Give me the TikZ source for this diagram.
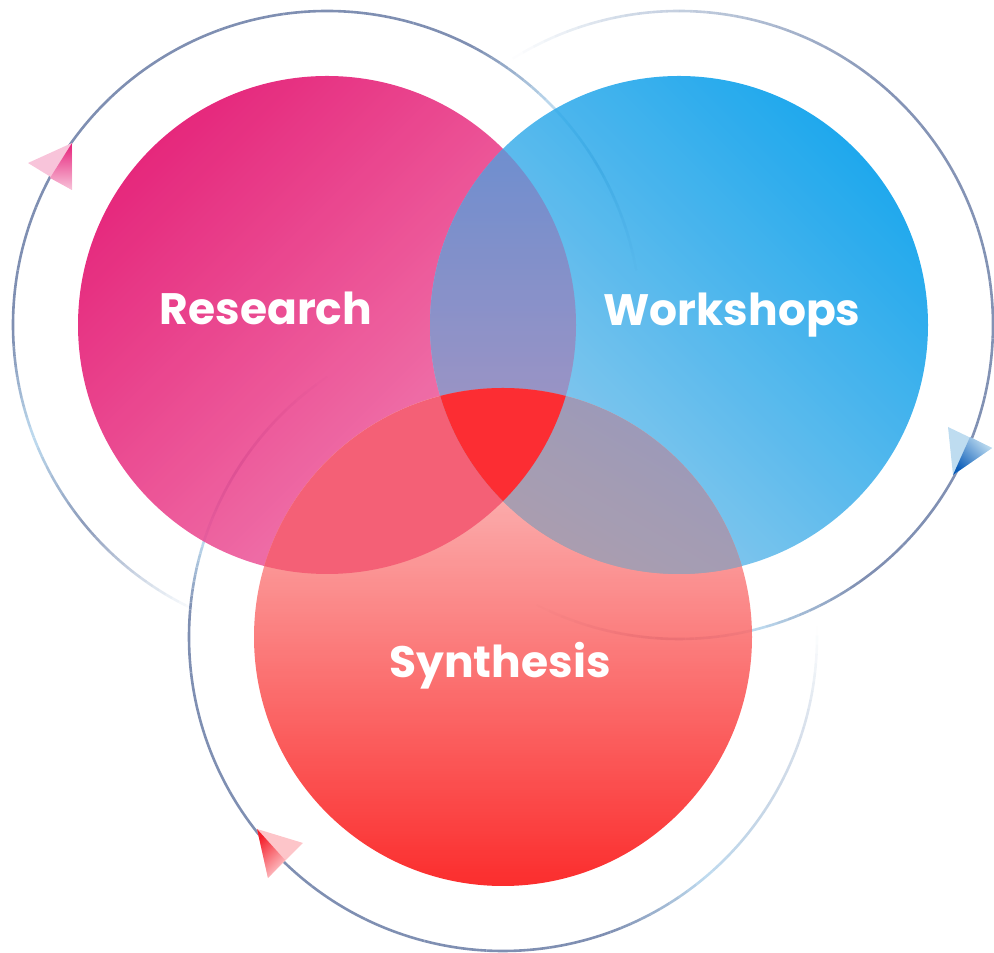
\documentclass[tikz,border=0pt]{standalone}
\usepackage{fontspec}
\newfontfamily\labelfont{Poppins}

\definecolor{ringdark}{HTML}{7F8FB2}
\definecolor{ringlight}{HTML}{BFDCF0}
\definecolor{rtop}{HTML}{E20A6A}
\definecolor{rbot}{HTML}{F072A9}
\definecolor{wtop}{HTML}{009CEA}
\definecolor{wbot}{HTML}{8AC6EA}
\definecolor{stop}{HTML}{FAC8C8}
\definecolor{sbot}{HTML}{FA1010}
\definecolor{rwtop}{HTML}{5B7FC8}
\definecolor{rwbot}{HTML}{8A84BD}
\definecolor{rsmix}{HTML}{F34A63}
\definecolor{wstop}{HTML}{8A8AB2}
\definecolor{wsbot}{HTML}{A091A3}
\definecolor{core}{HTML}{FC1017}
\definecolor{rdeep}{HTML}{E6207A}
\definecolor{rpale}{HTML}{F8C4DA}
\definecolor{wdeep}{HTML}{0A5CB8}
\definecolor{wpale}{HTML}{BEDCF0}
\definecolor{sdeep}{HTML}{F41E2A}
\definecolor{spale}{HTML}{FDC5C9}

\tikzset{
  ring/.style     = {line width=2.6pt},
  lobetext/.style = {text=white, anchor=base,
                     font=\labelfont\bfseries\fontsize{44}{44}\selectfont},
}

% orbit drawn piecewise: start/end angle, dark share, opacity
\newcommand{\ringarc}[3]{%
  \foreach \ta/\tb/\ma/\mb/\oa/\ob in {#3}{
    \foreach \k in {0,...,9}{
      \pgfmathsetmacro\sa{\ta+(\tb-\ta)*\k/10}
      \pgfmathsetmacro\sb{\ta+(\tb-\ta)*(\k+1)/10}
      \pgfmathtruncatemacro\sm{\ma+(\mb-\ma)*(\k+0.5)/10}
      \pgfmathsetmacro\so{\oa+(\ob-\oa)*(\k+0.5)/10}
      \draw[ring, draw=ringdark!\sm!ringlight, draw opacity=\so]
        (#1) ++(\sa:#2) arc[start angle=\sa, end angle=\sb, radius=#2];
    }}}

\begin{document}
\begin{tikzpicture}[x=1pt,y=1pt]
  \useasboundingbox (0,0) rectangle (994,953);
  \coordinate (research)  at (327,628);
  \coordinate (workshops) at (679,628);
  \coordinate (synthesis) at (503,316);

  % orbits
  \ringarc{research}{314pt}{246/232/30/70/0/0.5, 232/220/70/100/0.5/0.9,
    220/201/100/0/0.9/1, 201/182/0/100/1/1, 182/62/100/100/1/1,
    62/44/100/0/1/1, 44/30/0/70/1/1, 30/10/70/70/1/0}
  \ringarc{workshops}{314pt}{122/100/40/60/0/0.45, 100/75/60/80/0.45/0.7,
    75/50/80/100/0.7/0.95, 50/-55/100/100/0.95/1, -55/-76/100/0/1/1,
    -76/-92/0/90/1/1, -92/-117/90/90/1/0}
  \ringarc{synthesis}{314pt}{2/-15/40/60/0/0.35, -15/-32/60/40/0.35/0.6,
    -32/-50/40/0/0.6/1, -50/-70/0/100/1/1, -70/-185/100/100/1/1,
    -185/-198/100/0/1/1, -198/-212/0/80/1/1, -212/-236/80/80/1/0}

  % the three lobes and their overlaps
  \begin{scope}[transparency group, opacity=0.88]
    \shade[top color=rtop, bottom color=rbot, shading angle=45]
      (research) circle[radius=249pt];
    \shade[top color=wtop, bottom color=wbot, shading angle=-45]
      (workshops) circle[radius=249pt];
    \shade[top color=stop, bottom color=sbot]
      (synthesis) circle[radius=249pt];
    \begin{scope}
      \clip (research) circle[radius=249pt];
      \begin{scope}
        \clip (workshops) circle[radius=249pt];
        \fill[rwbot] (420,440) rectangle (590,566);
        \shade[top color=rwtop, bottom color=rwbot]
          (420,563) rectangle (590,805);
      \end{scope}
      \fill[rsmix] (synthesis) circle[radius=249pt];
    \end{scope}
    \begin{scope}
      \clip (workshops) circle[radius=249pt];
      \clip (synthesis) circle[radius=249pt];
      \fill[wsbot] (430,370) rectangle (760,570);
      \shade[top color=wstop, bottom color=wsbot, shading angle=-30]
        (500,378) rectangle (752,565);
      \clip (research) circle[radius=249pt];
      \fill[core] (synthesis) circle[radius=249pt];
    \end{scope}
  \end{scope}

  % arrow heads
  \fill[rpale] (28,790) -- (72,810) -- (72,763) -- cycle;
  \shade[top color=rdeep, bottom color=rpale] (72,810) -- (50,775) -- (72,763) -- cycle;
  \fill[wpale] (948,526) -- (992,505) -- (953,478) -- cycle;
  \shade[top color=wpale, bottom color=wdeep, shading angle=-45]
    (970,516) -- (992,505) -- (953,478) -- cycle;
  \fill[spale] (257,124) -- (303,110) -- (268,75) -- cycle;
  \shade[top color=sdeep, bottom color=spale, shading angle=45]
    (257,124) -- (285,93) -- (268,75) -- cycle;

  \node[lobetext] (researchlabel)  at (266,628) {Research};
  \node[lobetext] (workshopslabel) at (732,627) {Workshops};
  \node[lobetext] (synthesislabel) at (500,275) {Synthesis};
\end{tikzpicture}
\end{document}
